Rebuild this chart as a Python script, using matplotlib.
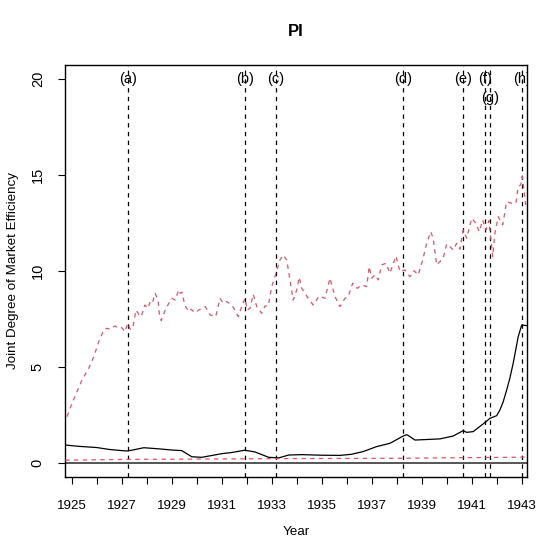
import numpy as np
import matplotlib
matplotlib.use("Agg")
import matplotlib.pyplot as plt

plt.rcParams['font.family'] = ['Liberation Sans', 'DejaVu Sans']

# upper red dashed series
upper_years = [1924.81, 1925.01, 1925.21, 1925.41, 1925.68, 1925.88, 1926.08, 1926.28,
               1926.41, 1926.54, 1926.72, 1926.88, 1927.01, 1927.12, 1927.24, 1927.34,
               1927.44, 1927.57, 1927.70, 1927.78, 1927.92, 1928.05, 1928.16, 1928.24,
               1928.34, 1928.45, 1928.50, 1928.58, 1928.74, 1928.88, 1929.01, 1929.14,
               1929.28, 1929.34, 1929.41, 1929.52, 1929.68, 1929.78, 1929.92, 1930.08,
               1930.34, 1930.54, 1930.76, 1930.93, 1931.06, 1931.20, 1931.40, 1931.53,
               1931.66, 1931.80, 1931.93, 1932.02, 1932.13, 1932.26, 1932.40, 1932.60,
               1932.73, 1932.86, 1933.00, 1933.13, 1933.33, 1933.46, 1933.60, 1933.73,
               1933.86, 1934.00, 1934.10, 1934.20, 1934.46, 1934.66, 1934.90, 1935.13,
               1935.33, 1935.53, 1935.73, 1935.93, 1936.06, 1936.24, 1936.42, 1936.60,
               1936.80, 1936.90, 1937.00, 1937.13, 1937.26, 1937.40, 1937.57, 1937.73,
               1937.97, 1938.13, 1938.33, 1938.53, 1938.69, 1938.86, 1939.04, 1939.20,
               1939.36, 1939.46, 1939.60, 1939.86, 1940.00, 1940.13, 1940.26, 1940.40,
               1940.53, 1940.66, 1940.80, 1941.00, 1941.17, 1941.30, 1941.44, 1941.57,
               1941.69, 1941.77, 1941.84, 1941.93, 1942.06, 1942.24, 1942.40, 1942.60,
               1942.77, 1942.86, 1942.96, 1943.02, 1943.09, 1943.16]
upper_vals = [2.43, 3.12, 3.73, 4.34, 4.95, 5.55, 6.33, 6.94,
              7.03, 6.98, 7.15, 7.03, 7.06, 6.85, 7.29, 6.98,
              7.03, 7.98, 7.72, 7.64, 8.24, 8.07, 8.50, 8.42,
              8.85, 8.50, 7.81, 7.43, 7.98, 8.33, 8.59, 8.50,
              9.03, 8.85, 8.91, 8.24, 7.90, 8.02, 7.84, 7.98,
              8.16, 7.72, 7.64, 8.59, 8.33, 8.42, 8.24, 7.98,
              7.64, 8.16, 8.59, 7.98, 8.07, 8.80, 8.16, 7.81,
              8.19, 8.19, 9.20, 9.72, 10.59, 10.85, 10.59, 9.55,
              8.50, 9.03, 9.69, 9.11, 8.59, 8.24, 8.71, 8.59,
              9.64, 8.68, 8.16, 8.59, 8.68, 9.38, 9.11, 9.29,
              9.20, 10.24, 9.64, 9.81, 9.55, 10.33, 10.42, 9.90,
              10.80, 9.98, 10.07, 9.72, 10.03, 9.81, 10.59, 11.46,
              12.06, 11.72, 10.33, 10.68, 11.42, 11.28, 11.11, 11.46,
              11.15, 12.15, 11.72, 12.76, 12.50, 12.06, 12.67, 12.15,
              12.64, 11.63, 10.76, 11.98, 12.84, 12.41, 13.63, 13.54,
              13.54, 14.41, 14.50, 14.93, 14.23, 13.45]

# black solid series
main_years = [1924.74, 1925.3, 1926.0, 1926.5, 1927.0, 1927.2, 1927.4, 1927.88,
              1928.5, 1929.0, 1929.4, 1929.8, 1930.2, 1931.0, 1931.4, 1931.92,
              1932.33, 1932.88, 1933.28, 1933.68, 1934.21, 1935.0, 1935.73, 1936.2,
              1936.66, 1937.2, 1937.73, 1938.26, 1938.4, 1938.53, 1938.73, 1939.73,
              1940.26, 1940.66, 1940.8, 1941.06, 1941.46, 1941.73, 1942.0, 1942.13,
              1942.26, 1942.4, 1942.53, 1942.66, 1942.86, 1943.0, 1943.2]
main_vals = [0.95, 0.88, 0.82, 0.72, 0.66, 0.64, 0.68, 0.81,
             0.75, 0.69, 0.66, 0.34, 0.31, 0.50, 0.56, 0.68,
             0.59, 0.31, 0.28, 0.43, 0.45, 0.42, 0.41, 0.47,
             0.61, 0.87, 1.04, 1.42, 1.49, 1.39, 1.21, 1.27,
             1.42, 1.70, 1.61, 1.65, 2.05, 2.34, 2.48, 2.78,
             3.2, 3.82, 4.45, 5.21, 6.59, 7.20, 7.17]

# lower red dashed series
lower_years = [1924.74, 1927.0, 1933.0, 1938.0, 1943.2]
lower_vals = [0.16, 0.20, 0.24, 0.26, 0.32]

event_years = [1927.24, 1931.93, 1933.17, 1938.26, 1940.66, 1941.52, 1941.75, 1943.01]
event_labels = ['(a)', '(b)', '(c)', '(d)', '(e)', '(f)', '(g)', '(h)']
event_label_y = [20, 20, 20, 20, 20, 20, 19, 20]

x_ticks = list(range(1925, 1944))
x_tick_labels = [str(y) if y % 2 == 1 else '' for y in x_ticks]
y_ticks = [0, 5, 10, 15, 20]

red = '#DF536B'
fs = 9.6

fig = plt.figure(figsize=(5.59, 5.59), dpi=100)
ax = fig.add_axes([0.1163, 0.1472, 0.9422 - 0.1163, 0.8843 - 0.1472])

ax.axhline(0, color='#555555', lw=1.4, zorder=1)
ax.plot(main_years, main_vals, color='black', lw=0.9, zorder=3)
ax.plot(upper_years, upper_vals, color=red, lw=0.9, dashes=(3.5, 3.5), zorder=3)
ax.plot(lower_years, lower_vals, color=red, lw=0.9, dashes=(3.5, 3.5), zorder=3)

for yr, lab, ly in zip(event_years, event_labels, event_label_y):
    ax.axvline(yr, color='black', lw=0.9, dashes=(3.5, 3.5), zorder=2)
    ax.text(yr, ly, lab, ha='center', va='center', fontsize=10.5,
            clip_on=True, zorder=4)

ax.set_xlim(1924.73, 1943.2)
ax.set_ylim(-0.7, 20.76)

ax.set_xticks(x_ticks)
ax.set_xticklabels(x_tick_labels, fontsize=fs)
ax.set_yticks(y_ticks)
ax.set_yticklabels([str(v) for v in y_ticks], fontsize=10.5,
                   rotation=90, va='center')
ax.tick_params(axis='x', length=5, width=0.8, pad=11.5)
ax.tick_params(axis='y', length=5, width=0.8, pad=9.5)

for sp in ax.spines.values():
    sp.set_linewidth(1.0)

ax.set_xlabel('Year', fontsize=fs)
ax.xaxis.set_label_coords(0.5, -0.12)
ax.set_ylabel('Joint Degree of Market Efficiency', fontsize=fs)
ax.yaxis.set_label_coords(-0.10, 0.5)

fig.text(0.5 * (0.1163 + 0.9422), 1 - 31 / 559, 'PI', ha='center', va='center',
         fontsize=12, fontweight='bold')

fig.savefig('out.png', dpi=100)
